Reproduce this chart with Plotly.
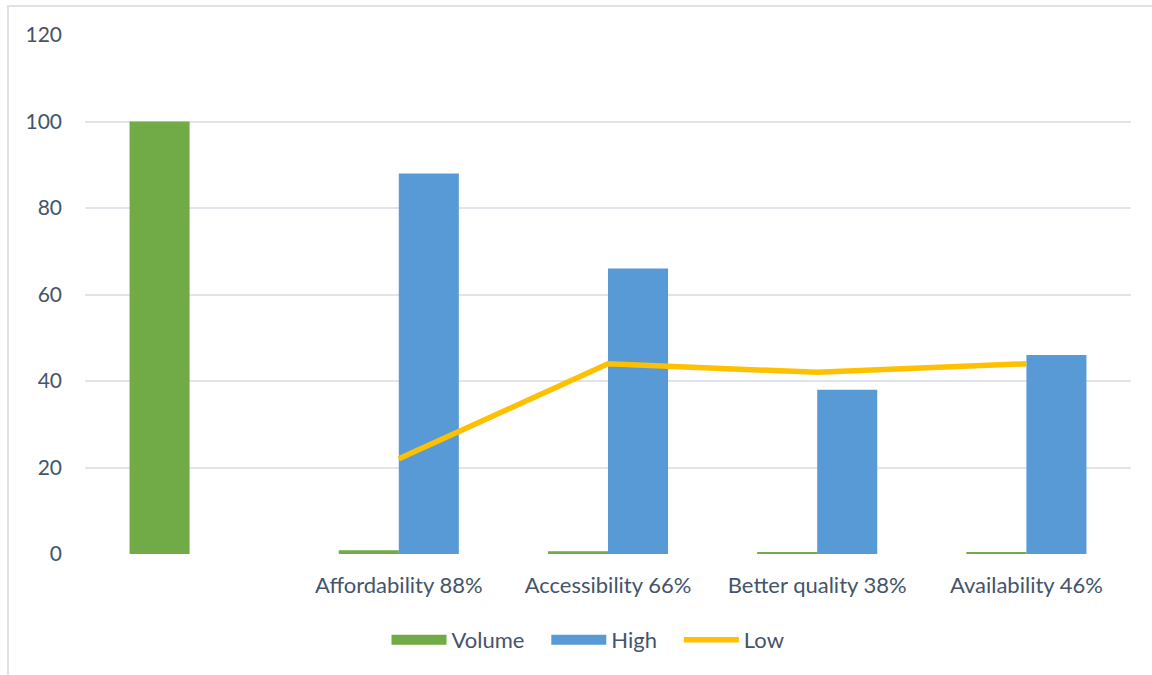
import plotly.graph_objects as go

# Chart data
categories = ["", "Affordability 88%", "Accessibility 66%", "Better quality 38%", "Availability 46%"]
volume = [100, 0.88, 0.66, 0.38, 0.46]
high = [None, 88, 66, 38, 46]
low = [None, 22, 44, 42, 44]
y_ticks = [0, 20, 40, 60, 80, 100, 120]

W, H = 1152, 675
ML, MR, MT, MB = 85, 21, 35, 121
TEXT = "#44546a"
FONT = "Lato, 'Open Sans', sans-serif"
GREEN = "#70ab48"
BLUE = "#579ad6"
GOLD = "#ffc000"
PAD = "\u00a0" * 3

fig = go.Figure()
fig.add_trace(go.Bar(
    name="Volume", x=categories, y=volume, showlegend=False,
    marker=dict(color=GREEN, line=dict(width=0)),
))
fig.add_trace(go.Bar(
    name="High", x=categories, y=high, showlegend=False,
    marker=dict(color=BLUE, line=dict(width=0)),
))
fig.add_trace(go.Scatter(
    name="Low", x=categories, y=low, mode="lines", showlegend=False,
    line=dict(color=GOLD, width=5.5), connectgaps=False,
))

# legend entries drawn as wide swatches
for name, color, width in [("Volume" + PAD, GREEN, 14), ("High" + PAD, BLUE, 14), ("Low", GOLD, 5.5)]:
    fig.add_trace(go.Scatter(
        name=name, x=[None], y=[None], mode="lines",
        line=dict(color=color, width=width), showlegend=True, hoverinfo="skip",
    ))

# outer frame of the chart area
pw, ph = W - ML - MR, H - MT - MB
def px_x(p):
    return (p - ML) / pw
def px_y(p):
    return (H - MB - p) / ph

fig.add_shape(type="rect", xref="paper", yref="paper",
              x0=px_x(8), x1=px_x(W + 20), y0=px_y(H + 20), y1=px_y(6),
              line=dict(color="#dfe3e9", width=2), fillcolor="rgba(0,0,0,0)",
              layer="below")

fig.update_layout(
    width=W, height=H,
    margin=dict(l=ML, r=MR, t=MT, b=MB),
    paper_bgcolor="white", plot_bgcolor="white",
    barmode="group", bargap=0.426, bargroupgap=0,
    font=dict(family=FONT, size=22, color=TEXT),
    showlegend=True,
    legend=dict(orientation="h", x=px_x(588), xanchor="center", y=px_y(640), yanchor="middle",
                font=dict(size=22, color=TEXT), itemwidth=55, traceorder="normal"),
    xaxis=dict(showgrid=False, showline=False, ticks="", ticklabelstandoff=16,
               tickfont=dict(size=22, color=TEXT)),
    yaxis=dict(range=[0, 120], tickvals=y_ticks, showgrid=True, gridcolor="#e1e5ea",
               gridwidth=2, zeroline=False, showline=False, ticks="",
               ticklabelstandoff=22, tickfont=dict(size=21, color=TEXT)),
)

fig.write_html("out.html")
